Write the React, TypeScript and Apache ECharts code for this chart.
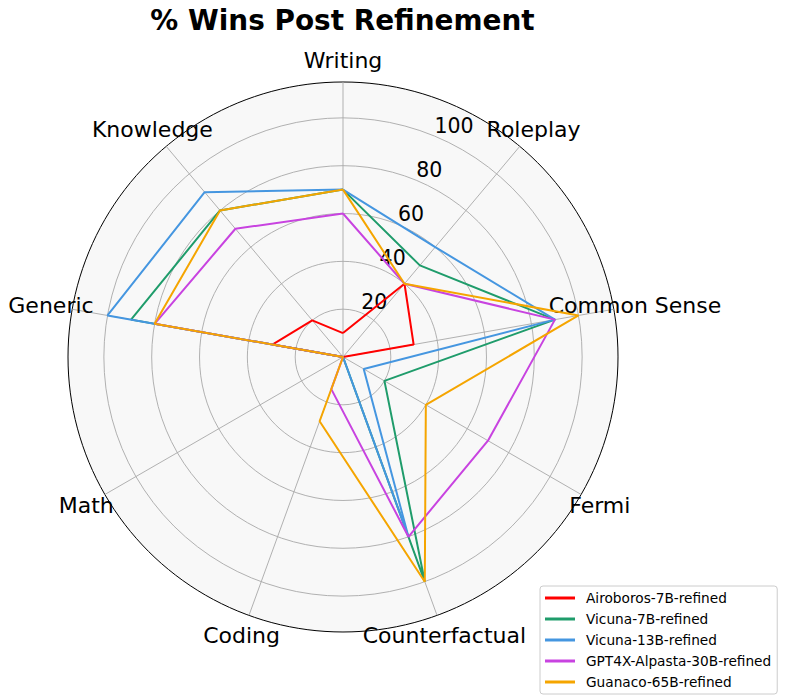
import React, { useEffect, useRef } from 'react';
import * as echarts from 'echarts';

const categories = ['Writing', 'Roleplay', 'Common Sense', 'Fermi', 'Counterfactual', 'Coding', 'Math', 'Generic', 'Knowledge'];
const seriesNames = ['Airoboros-7B-refined', 'Vicuna-7B-refined', 'Vicuna-13B-refined', 'GPT4X-Alpasta-30B-refined', 'Guanaco-65B-refined'];
const airoboros7B = [10, 40, 30, 0, 0, 0, 0, 30, 20];
const vicuna7B = [70, 50, 90, 20, 100, 0, 0, 90, 80];
const vicuna13B = [70, 60, 90, 10, 80, 0, 0, 100, 90];
const gpt4xAlpasta30B = [60, 40, 90, 70, 80, 14.3, 0, 80, 70];
const guanaco65B = [70, 40, 100, 40, 100, 28.6, 0, 80, 80];
const radialTicks = [20, 40, 60, 80, 100];
const radialMax = 115;
const colors = ['#ff0000', '#1f9c6b', '#4596e0', '#c843e0', '#f5a500'];

export default function App() {
  const ref = useRef<HTMLDivElement>(null);
  useEffect(() => {
    const chart = echarts.init(ref.current as HTMLDivElement, null, { renderer: 'svg' });
    const FONT = 'DejaVu Sans';
    const center = [343, 357];
    const radius = 275;
    const labelRadius = 124;
    const gridColor = '#a8a8a8';
    const sectorDeg = 360 / categories.length;
    const allSeries = [airoboros7B, vicuna7B, vicuna13B, gpt4xAlpasta30B, guanaco65B];
    const lineSeries = allSeries.map((vals, k) => ({
      name: seriesNames[k],
      type: 'line',
      coordinateSystem: 'polar',
      polarIndex: 0,
      clip: false,
      data: [...vals.map((v, i) => [v, i]), [vals[0], 0]],
      symbol: 'none',
      lineStyle: { color: colors[k], width: 2 },
      itemStyle: { color: colors[k] },
      z: 3 + k,
    }));
    const splitColors = [gridColor, gridColor, gridColor, gridColor, gridColor, gridColor, 'rgba(0,0,0,0)'];
    const hiddenAxis = {
      axisLine: { show: false },
      axisTick: { show: false },
      axisLabel: { show: false },
      splitLine: { show: false },
      splitArea: { show: false },
    };
    const option: any = {
      animation: false,
      backgroundColor: '#ffffff',
      title: {
        text: '% Wins Post Refinement',
        left: 337.5,
        top: 1,
        textAlign: 'center',
        textStyle: { fontFamily: FONT, fontSize: 27.9, fontWeight: 'bold', color: '#000' },
      },
      legend: {
        data: seriesNames,
        orient: 'vertical',
        left: 540,
        top: 586,
        icon: 'rect',
        itemWidth: 30,
        itemHeight: 3,
        itemGap: 7,
        padding: [5, 6, 5, 5],
        borderColor: '#cccccc',
        borderWidth: 1,
        borderRadius: 3,
        backgroundColor: 'rgba(255,255,255,0.8)',
        textStyle: { fontFamily: FONT, fontSize: 13.7, color: '#000', padding: [0, 0, 0, 6] },
      },
      polar: [
        { center, radius },
        { center, radius },
        { center, radius },
      ],
      angleAxis: [
        {
          polarIndex: 0,
          type: 'category',
          data: categories,
          startAngle: 90 + sectorDeg / 2,
          clockwise: true,
          boundaryGap: true,
          ...hiddenAxis,
        },
        {
          polarIndex: 1,
          type: 'value',
          min: 0,
          max: 360,
          interval: 90,
          startAngle: 67.5,
          z: 0,
          axisLine: { show: true, lineStyle: { color: '#000', width: 1 } },
          axisTick: { show: false },
          axisLabel: { show: false },
          splitLine: { show: false },
          splitArea: { show: true, areaStyle: { color: ['#f8f8f8'] } },
        },
        {
          polarIndex: 2,
          type: 'value',
          min: 0,
          max: 360,
          interval: sectorDeg,
          startAngle: 90,
          clockwise: true,
          z: 1,
          axisLine: { show: false },
          axisTick: { show: false },
          axisLabel: { show: false },
          splitLine: { show: true, lineStyle: { color: gridColor, width: 0.9 } },
          splitArea: { show: false },
        },
      ],
      radiusAxis: [
        {
          polarIndex: 0,
          type: 'value',
          min: 0,
          max: radialMax,
          interval: 20,
          ...hiddenAxis,
        },
        {
          polarIndex: 1,
          type: 'value',
          min: 0,
          max: radialMax,
          interval: 20,
          z: 1,
          axisLine: { show: false },
          axisTick: { show: false },
          splitLine: { show: true, lineStyle: { color: splitColors, width: 0.9 } },
          splitArea: { show: false },
          axisLabel: {
            show: true,
            margin: 0,
            align: 'left',
            verticalAlign: 'bottom',
            fontFamily: FONT,
            fontSize: 20.5,
            color: '#000',
            formatter: (v: number) => (radialTicks.includes(v) ? String(v) : ''),
          },
        },
        {
          polarIndex: 2,
          type: 'value',
          min: 0,
          max: radialMax,
          interval: 20,
          ...hiddenAxis,
        },
      ],
      series: [
        {
          type: 'scatter',
          coordinateSystem: 'polar',
          polarIndex: 0,
          clip: false,
          silent: true,
          symbolSize: 0,
          itemStyle: { color: '#000', opacity: 1 },
          data: categories.map((c, i) => ({ name: c, value: [labelRadius, i] })),
          label: {
            show: true,
            position: 'inside',
            formatter: '{b}',
            fontFamily: FONT,
            fontSize: 22,
            color: '#000',
            opacity: 1,
            textBorderWidth: 0,
            textBorderColor: 'transparent',
          },
          emphasis: { disabled: true },
          z: 2,
        },
        ...lineSeries,
      ],
    };
    chart.setOption(option);
    return () => chart.dispose();
  }, []);
  return <div ref={ref} style={{ position: 'absolute', left: 0, top: 0, width: 786, height: 699 }} />;
}
